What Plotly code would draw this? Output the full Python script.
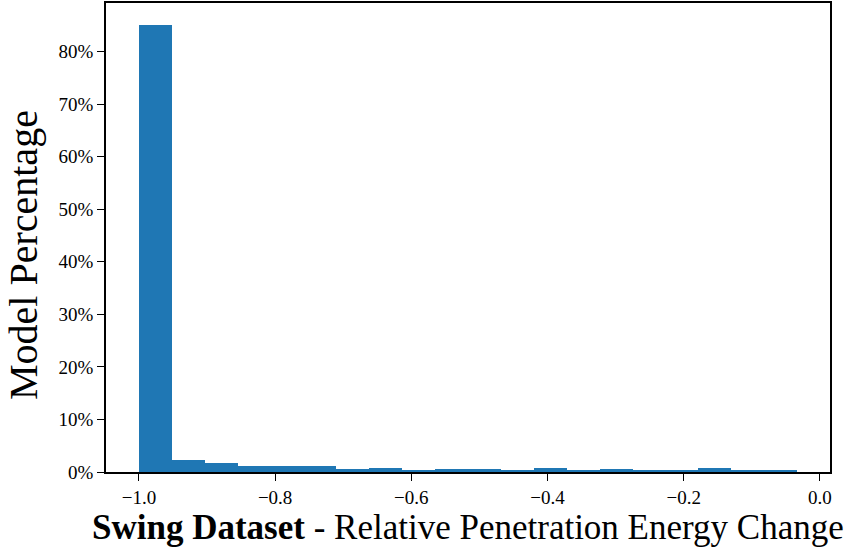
import numpy as np
import plotly.graph_objects as go

# Data
bin_min = -1.0
bin_max = -0.0335
n_bins = 20
percentages = [85.0, 2.35, 1.65, 1.2, 1.2, 1.2, 0.63, 0.82, 0.25, 0.63,
               0.63, 0.44, 0.82, 0.44, 0.63, 0.25, 0.25, 0.82, 0.44, 0.44]
x_tick_vals = [-1.0, -0.8, -0.6, -0.4, -0.2, 0.0]
x_tick_text = ["\u22121.0", "\u22120.8", "\u22120.6", "\u22120.4", "\u22120.2", "0.0"]
y_tick_vals = [0, 10, 20, 30, 40, 50, 60, 70, 80]
y_tick_text = [f"{v}%" for v in y_tick_vals]

edges = np.linspace(bin_min, bin_max, n_bins + 1)
centers = (edges[:-1] + edges[1:]) / 2
width = edges[1] - edges[0]

span = bin_max - bin_min
x_range = [bin_min - 0.05 * span, bin_max + 0.05 * span]
y_range = [0, max(percentages) * 1.05]

FONT = "Palatino Linotype, Book Antiqua, Palatino, Liberation Serif, serif"

L, R, T, B = 106, 20, 3, 80
W, H = 850, 552
pw, ph = W - L - R, H - T - B

fig = go.Figure(go.Bar(
    x=centers, y=percentages, width=width,
    marker=dict(color="#1f77b4", line=dict(width=0)),
))

fig.update_layout(
    width=W, height=H,
    margin=dict(l=L, r=R, t=T, b=B),
    paper_bgcolor="white", plot_bgcolor="white",
    font=dict(family=FONT, color="black", size=19),
    showlegend=False,
    bargap=0,
)
fig.update_xaxes(
    range=x_range, tickvals=x_tick_vals, ticktext=x_tick_text,
    showgrid=False, zeroline=False, automargin=False,
    showline=True, linecolor="black", linewidth=1.5, mirror=True,
    ticks="outside", ticklen=7, tickwidth=1.2, tickcolor="black",
    tickfont=dict(size=19),
)
fig.update_yaxes(
    range=y_range, tickvals=y_tick_vals, ticktext=y_tick_text,
    showgrid=False, zeroline=False, automargin=False,
    showline=True, linecolor="black", linewidth=1.5, mirror=True,
    ticks="outside", ticklen=7, tickwidth=1.2, tickcolor="black",
    tickfont=dict(size=19),
)

fig.add_annotation(
    text="<b>Swing Dataset</b> - Relative Penetration Energy Change",
    xref="paper", yref="paper", x=(468 - L) / pw, y=-(527 - (H - B)) / ph,
    xanchor="center", yanchor="middle", showarrow=False,
    font=dict(size=35, family=FONT, color="black"),
)
fig.add_annotation(
    text="Model Percentage",
    xref="paper", yref="paper", x=-(L - 23) / pw, y=((H - B) - 255) / ph,
    xanchor="center", yanchor="middle", showarrow=False, textangle=-90,
    font=dict(size=40, family=FONT, color="black"),
)

fig.write_html("out.html", config={"displayModeBar": False},
               post_script="document.body.style.margin='0';")
